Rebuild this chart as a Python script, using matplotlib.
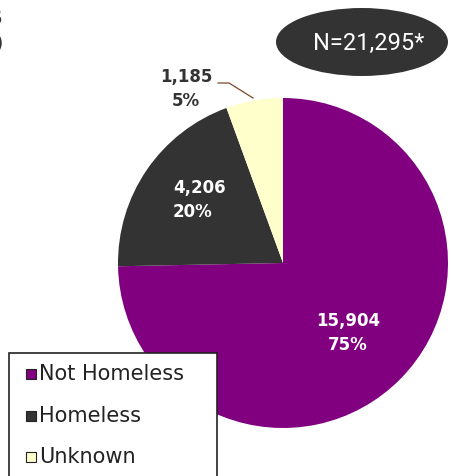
import matplotlib
matplotlib.use("Agg")
import matplotlib.pyplot as plt
from matplotlib.patches import Ellipse, Rectangle

categories = ["Not Homeless", "Homeless", "Unknown"]
counts = [15904, 4206, 1185]
percents = ["75%", "20%", "5%"]
colors = ["#800080", "#333333", "#FFFFCC"]
total_label = "N=21,295*"

W, H = 451, 476
fig = plt.figure(figsize=(W / 100, H / 100), dpi=100)
ax = fig.add_axes([0, 0, 1, 1])

cx, cy, r = 283, H - 263, 165
ax.pie(counts, colors=colors, startangle=90, counterclock=False,
       center=(cx, cy), radius=r, frame=True,
       wedgeprops=dict(linewidth=0))
ax.set_xlim(0, W)
ax.set_ylim(0, H)
ax.set_aspect("equal")
ax.axis("off")

fmt = lambda c: f"{c:,}"
lab_kw = dict(fontsize=12, fontweight="bold", linespacing=1.45)
ax.text(348, H - 333, f"{fmt(counts[0])}\n{percents[0]}", color="white",
        ha="center", va="center", **lab_kw)
ax.text(173, H - 200, f"{fmt(counts[1])}\n{percents[1]}", color="white",
        ha="left", va="center", multialignment="left", **lab_kw)
ax.text(186, H - 89, f"{fmt(counts[2])}\n{percents[2]}", color="#333333",
        ha="center", va="center", **lab_kw)
ax.plot([218, 229, 253], [H - 83, H - 83, H - 98], color="#7a4a2a", lw=0.9)

ell = Ellipse((362, H - 42), 172, 68, facecolor="#333333", edgecolor="none")
ax.add_patch(ell)
ax.text(369, H - 43, total_label, color="white", fontsize=17, ha="center",
        va="center", family="Roboto")

ax.text(3, H - 18, "STATUS", color="#333333", fontsize=14, fontweight="bold",
        ha="right", va="center")
ax.text(4, H - 43, "(PERCENT)", color="#333333", fontsize=14, fontweight="bold",
        ha="right", va="center")

# legend box
ax.add_patch(Rectangle((9, -5), 208, (H - 353) + 5, facecolor="white",
                       edgecolor="#222222", linewidth=1.2, zorder=5))
row_y = [374, 416, 457]
for name, col, yy in zip(categories, colors, row_y):
    ax.add_patch(Rectangle((26, H - yy - 5), 10, 10, facecolor=col,
                           edgecolor="#222222", linewidth=0.8, zorder=6))
    ax.text(39, H - yy, name, fontsize=15, color="#222222", ha="left",
            va="center", zorder=6)

fig.savefig("out.png", dpi=100)
